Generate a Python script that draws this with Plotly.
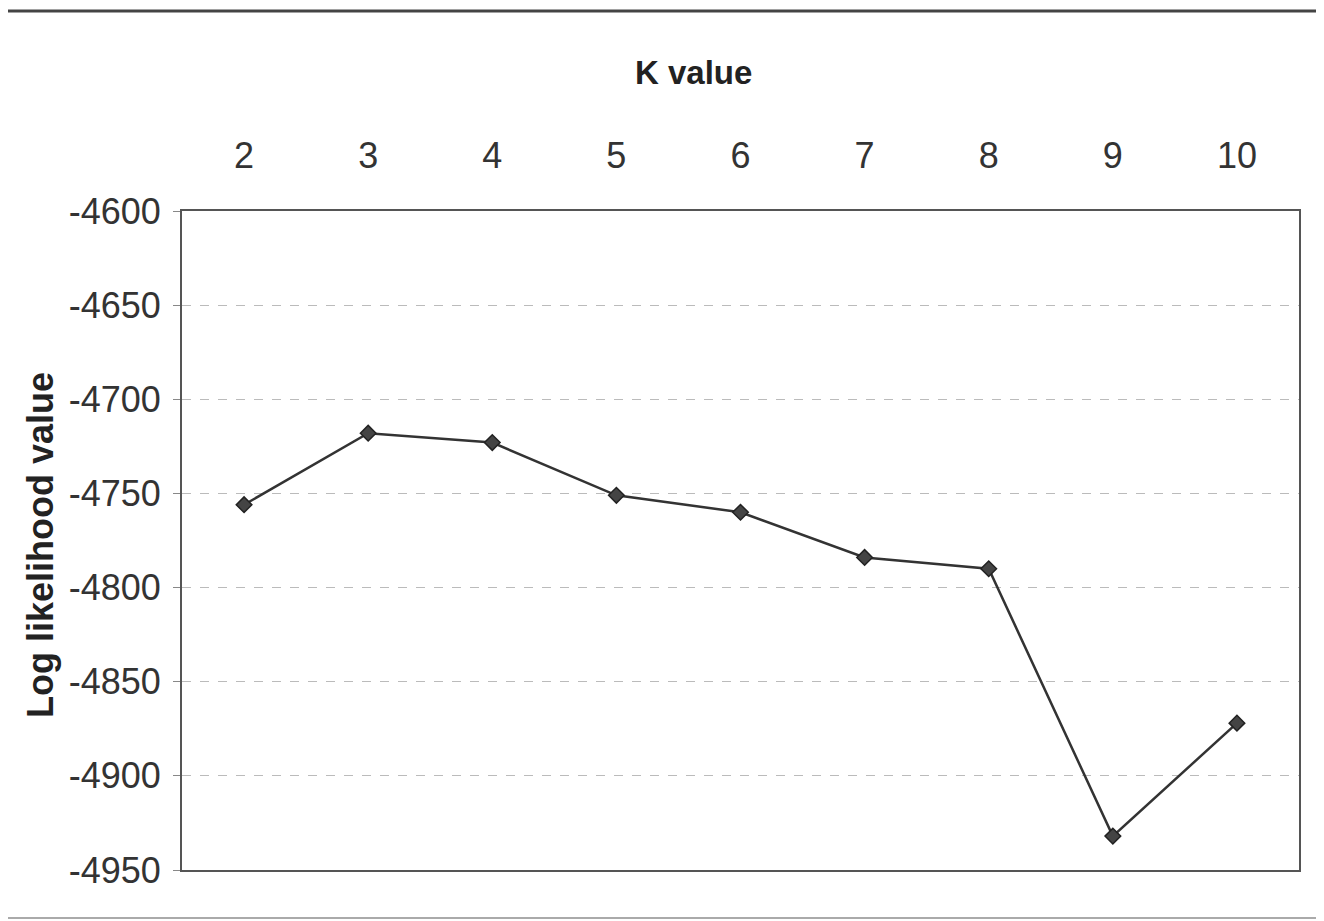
import plotly.graph_objects as go

k_values = ["2", "3", "4", "5", "6", "7", "8", "9", "10"]
log_likelihood = [-4756, -4718, -4723, -4751, -4760, -4784, -4790, -4932, -4872]
y_ticks = [-4600, -4650, -4700, -4750, -4800, -4850, -4900, -4950]
y_tick_text = [str(v) for v in y_ticks]

# page has an 8px body margin, so figure is 16px smaller than the window
W, H = 1316, 913
L, R, T, B = 174, 25, 203, 51
pw, ph = W - L - R, H - T - B

def px_x(x):
    return (x - L) / pw

def px_y(y):
    return (H - B - y) / ph

fig = go.Figure()
fig.add_trace(go.Scatter(
    x=k_values, y=log_likelihood, mode="lines+markers",
    line=dict(color="#333333", width=2.5),
    marker=dict(symbol="diamond", size=12, color="#444444",
                line=dict(color="#222222", width=1.5)),
    showlegend=False,
))

font = "Liberation Sans, Arial, sans-serif"
fig.update_layout(
    width=W, height=H,
    margin=dict(l=L, r=R, t=T, b=B),
    paper_bgcolor="white", plot_bgcolor="white",
    font=dict(family=font, color="#222222"),
    xaxis=dict(
        type="category", side="top", range=[-0.5, 8.5],
        showgrid=False, showline=True, linecolor="#555555", linewidth=2,
        mirror=True, ticks="", tickfont=dict(size=36, color="#333333"),
        ticklabelstandoff=27,
    ),
    yaxis=dict(
        range=[-4950, -4600], tickvals=y_ticks, ticktext=y_tick_text,
        showgrid=True, gridcolor="#bbbbbb", griddash="dash", gridwidth=1,
        showline=True, linecolor="#555555", linewidth=2, mirror=True,
        ticks="outside", ticklen=7, tickcolor="#888888",
        tickfont=dict(size=36, color="#333333"),
        ticklabelstandoff=5, zeroline=False,
    ),
    annotations=[
        dict(text="<b>K value</b>", xref="paper", yref="paper",
             x=px_x(685), y=px_y(64), xanchor="center", yanchor="middle",
             showarrow=False, font=dict(size=33, color="#222222")),
        dict(text="<b>Log likelihood value</b>", xref="paper", yref="paper",
             x=px_x(32), y=px_y(537), xanchor="center", yanchor="middle",
             textangle=-90, showarrow=False, font=dict(size=36, color="#222222")),
    ],
    shapes=[
        dict(type="line", xref="paper", yref="paper",
             x0=px_x(0), x1=px_x(W), y0=px_y(3), y1=px_y(3),
             line=dict(color="#444444", width=3)),
        dict(type="line", xref="paper", yref="paper",
             x0=px_x(0), x1=px_x(W), y0=px_y(910), y1=px_y(910),
             line=dict(color="#aaaaaa", width=2)),
    ],
)

fig.write_html("out.html")
